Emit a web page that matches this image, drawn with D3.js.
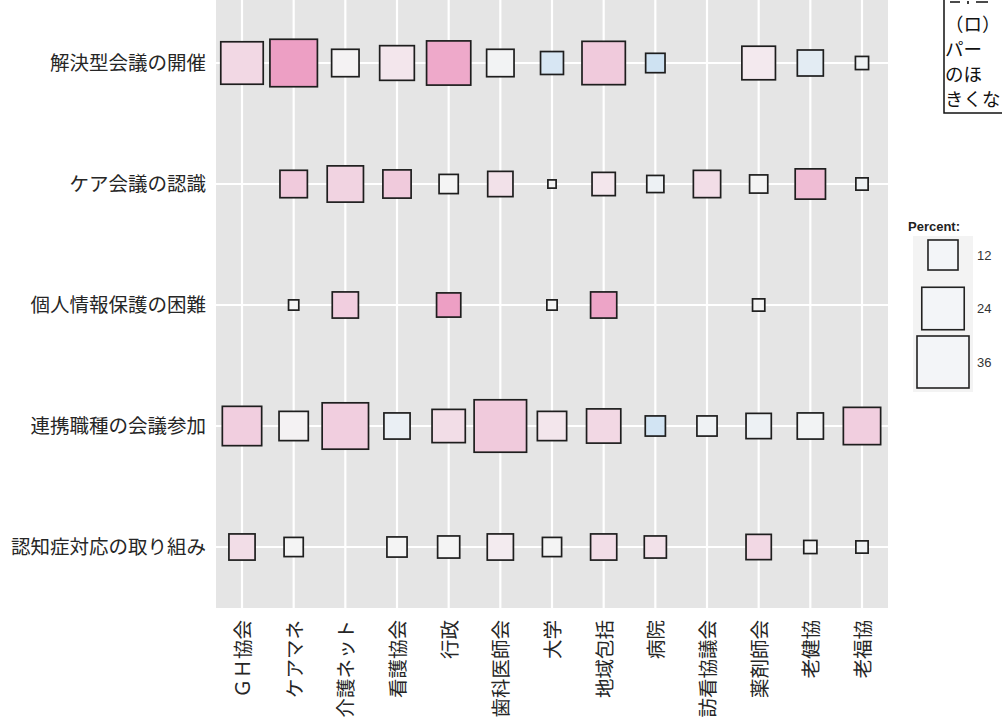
<!DOCTYPE html>
<html>
<head>
<meta charset="utf-8">
<script src="https://cdn.jsdelivr.net/npm/d3@7"></script>
<style>
  html, body { margin: 0; padding: 0; background: #ffffff; }
  svg { display: block; }
</style>
</head>
<body>
<svg id="chart" width="1002" height="724"></svg>
<script>
// ---- data ----
const rowLabels = ["解決型会議の開催", "ケア会議の認識", "個人情報保護の困難", "連携職種の会議参加", "認知症対応の取り組み"];
const colLabels = ["ＧＨ協会", "ケアマネ", "介護ネット", "看護協会", "行政", "歯科医師会", "大学", "地域包括", "病院", "訪看協議会", "薬剤師会", "老健協", "老福協"];

// percent (box size); null = no box
const pctKaiketsu = [24, 30, 10, 16, 26, 10, 7, 25, 5, null, 15, 9, 2.3];
const pctCare     = [null, 10, 17.5, 10.6, 4.9, 8.5, 0.9, 7.2, 3.9, 9.9, 4.4, 12.2, 2];
const pctKojin    = [null, 1.4, 9.1, null, 7.8, null, 1.4, 9.1, null, null, 2, null, null];
const pctRenkei   = [20.6, 11.4, 28.6, 9.1, 14.7, 36.6, 11.4, 15.6, 5.4, 5.4, 8.5, 9.1, 18.5];
const pctNinchi   = [9.1, 4.9, null, 5.4, 6.5, 9.1, 4.9, 9.1, 6.5, null, 8.5, 2.3, 2];

// diverging colour value (negative = blue, positive = pink)
const colKaiketsu = [0.3, 0.9, 0.02, 0.15, 0.8, -0.05, -0.6, 0.45, -0.8, null, 0.12, -0.35, -0.1];
const colCare     = [null, 0.45, 0.35, 0.45, 0.0, 0.2, 0.0, 0.15, -0.15, 0.25, 0.0, 0.6, -0.1];
const colKojin    = [null, 0.0, 0.4, null, 0.9, null, 0.0, 0.85, null, null, 0.0, null, null];
const colRenkei   = [0.4, 0.02, 0.4, -0.2, 0.25, 0.45, 0.15, 0.3, -0.7, -0.1, -0.15, -0.05, 0.4];
const colNinchi   = [0.25, 0.0, null, 0.0, 0.0, 0.1, 0.0, 0.25, 0.2, null, 0.3, 0.0, -0.1];

const legendValues = [12, 24, 36];
const legendTitle = "Percent:";
// visible fragments of the note box that is cut off by the frame
const noteLines = ["（ロ）", "パー", "のほ", "きくな"];

const pctRows = [pctKaiketsu, pctCare, pctKojin, pctRenkei, pctNinchi];
const colRows = [colKaiketsu, colCare, colKojin, colRenkei, colNinchi];

const cells = [];
rowLabels.forEach((r, i) => {
  colLabels.forEach((c, j) => {
    const p = pctRows[i][j];
    if (p != null) cells.push({ row: r, col: c, pct: p, cv: colRows[i][j] });
  });
});

// ---- layout ----
const svg = d3.select("#chart");
const panel = { x0: 216, x1: 888, y0: 0, y1: 608 };
const font = "'Noto Sans CJK JP', 'Noto Sans', sans-serif";

const x = d3.scalePoint().domain(colLabels).range([242, 862]);
const y = d3.scalePoint().domain(rowLabels).range([63, 547]);
const size = d3.scaleSqrt().domain([0, 36]).range([0, 52]);
const color = d3.scaleLinear().domain([-1, 0, 1]).range(["#c4ddf2", "#f4f4f4", "#ec96bf"]).clamp(true);

// panel
svg.append("rect")
  .attr("x", panel.x0).attr("y", panel.y0)
  .attr("width", panel.x1 - panel.x0).attr("height", panel.y1 - panel.y0)
  .attr("fill", "#e5e5e5");

// grid
svg.append("g").selectAll("line").data(colLabels).join("line")
  .attr("x1", d => x(d)).attr("x2", d => x(d))
  .attr("y1", panel.y0).attr("y2", panel.y1)
  .attr("stroke", "#ffffff").attr("stroke-width", 2.2);
svg.append("g").selectAll("line").data(rowLabels).join("line")
  .attr("x1", panel.x0).attr("x2", panel.x1)
  .attr("y1", d => y(d)).attr("y2", d => y(d))
  .attr("stroke", "#ffffff").attr("stroke-width", 2.2);

// boxes
svg.append("g").selectAll("rect").data(cells).join("rect")
  .attr("x", d => x(d.col) - size(d.pct) / 2)
  .attr("y", d => y(d.row) - size(d.pct) / 2)
  .attr("width", d => size(d.pct))
  .attr("height", d => size(d.pct))
  .attr("fill", d => color(d.cv))
  .attr("stroke", "#1e1e1e")
  .attr("stroke-width", 1.7);

// axes
const yAxis = svg.append("g")
  .attr("transform", `translate(${panel.x0},0)`)
  .call(d3.axisLeft(y).tickSize(0).tickPadding(10));
yAxis.select(".domain").remove();
yAxis.selectAll("text")
  .attr("font-family", font).attr("font-size", 19.5).attr("fill", "#262626");

const xAxis = svg.append("g")
  .attr("transform", `translate(0,${panel.y1})`)
  .call(d3.axisBottom(x).tickSize(0));
xAxis.select(".domain").remove();
xAxis.selectAll("text")
  .attr("font-family", font).attr("font-size", 19.5).attr("fill", "#262626")
  .attr("transform", "rotate(-90)")
  .attr("text-anchor", "end")
  .attr("x", -12).attr("y", 0).attr("dy", "0.38em");

// legend
const lg = svg.append("g");
lg.append("text").attr("x", 908).attr("y", 231)
  .attr("font-family", "'Liberation Sans', Arial, sans-serif")
  .attr("font-weight", "bold").attr("font-size", 13).attr("fill", "#222")
  .text(legendTitle);
lg.append("rect").attr("x", 913).attr("y", 236).attr("width", 60).attr("height", 156)
  .attr("fill", "#f3f3f3");
const legendY = d3.scalePoint().domain(legendValues).range([255, 362]);
lg.selectAll("rect.k").data(legendValues).join("rect")
  .attr("class", "k")
  .attr("x", d => 943 - size(d) / 2)
  .attr("y", d => legendY(d) - size(d) / 2)
  .attr("width", d => size(d)).attr("height", d => size(d))
  .attr("fill", "#f3f5f8").attr("stroke", "#222").attr("stroke-width", 1.6);
lg.selectAll("text.k").data(legendValues).join("text")
  .attr("class", "k")
  .attr("x", 977).attr("y", d => legendY(d)).attr("dy", "0.35em")
  .attr("font-family", "'Liberation Sans', Arial, sans-serif")
  .attr("font-size", 13).attr("fill", "#333")
  .text(d => d);

// note box (top right, cut by the frame)
const note = svg.append("g");
note.append("rect").attr("x", 944).attr("y", -20).attr("width", 100).attr("height", 133)
  .attr("fill", "#ffffff").attr("stroke", "#111").attr("stroke-width", 1.5);
// partly hidden first line at the top edge
note.append("path")
  .attr("d", "M950,2 L960,2 M968,1 L968,4 M976,2 L988,2")
  .attr("stroke", "#111").attr("stroke-width", 1.6).attr("fill", "none");
const noteY = [31, 56, 81, 106];
note.selectAll("text").data(noteLines).join("text")
  .attr("x", 945).attr("y", (d, i) => noteY[i])
  .attr("font-family", font).attr("font-size", 18.5).attr("fill", "#111")
  .text(d => d);
</script>
</body>
</html>
